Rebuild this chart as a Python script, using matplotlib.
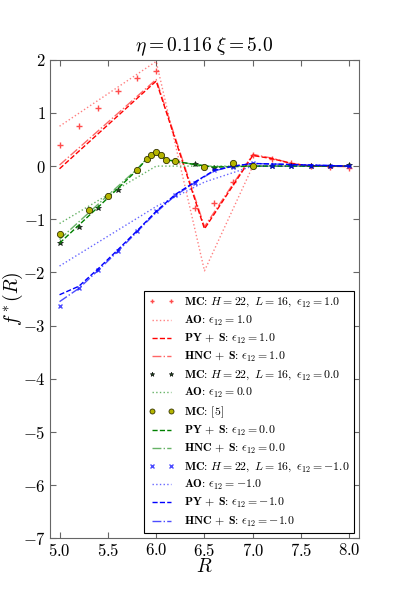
import matplotlib
matplotlib.use("Agg")
import matplotlib.pyplot as plt

plt.rcParams['font.family'] = 'serif'
plt.rcParams['font.serif'] = ['cmr10', 'DejaVu Serif']
plt.rcParams['mathtext.fontset'] = 'cm'
plt.rcParams['axes.formatter.use_mathtext'] = True
plt.rcParams['axes.unicode_minus'] = True

# ---- MC data ----
R_mc_p1 = [5.0, 5.2, 5.4, 5.6, 5.8, 6.0, 6.4, 6.6, 6.8, 7.0, 7.2, 7.4, 7.6, 7.8, 8.0]
f_mc_p1 = [0.39, 0.76, 1.09, 1.41, 1.65, 1.79, -0.79, -0.70, -0.29, 0.21, 0.14, 0.05, 0.0, -0.01, -0.03]

R_mc_0 = [5.0, 5.2, 5.4, 5.6, 5.8, 6.0, 6.2, 6.4, 6.6, 6.8, 7.0, 7.2, 7.4, 7.6, 7.8, 8.0]
f_mc_0 = [-1.44, -1.15, -0.79, -0.45, -0.10, 0.24, 0.10, 0.04, -0.03, 0.01, 0.0, 0.0, 0.0, 0.0, 0.0, 0.02]

R_mc_ref = [5.0, 5.3, 5.5, 5.8, 5.9, 5.95, 6.0, 6.05, 6.1, 6.2, 6.5, 6.8, 7.0]
f_mc_ref = [-1.27, -0.83, -0.57, -0.07, 0.13, 0.21, 0.27, 0.20, 0.12, 0.09, -0.01, 0.06, 0.0]

R_mc_m1 = [5.0, 5.2, 5.4, 5.6, 5.8, 6.0, 6.2, 6.4, 6.6, 6.8, 7.0, 7.2, 7.4, 7.6, 7.8, 8.0]
f_mc_m1 = [-2.64, -2.29, -1.95, -1.60, -1.23, -0.85, -0.54, -0.31, -0.08, -0.01, 0.05, 0.0, 0.0, 0.0, 0.0, 0.0]

# ---- theory curves ----
R_ao_p1 = [5.0, 6.0, 6.5, 7.0, 8.0]
f_ao_p1 = [0.75, 1.97, -1.97, 0.0, 0.0]
R_py_p1 = [5.0, 6.0, 6.5, 7.0, 7.2, 7.4, 7.6, 8.0]
f_py_p1 = [-0.05, 1.60, -1.18, 0.20, 0.14, 0.05, 0.0, 0.0]
R_hnc_p1 = [5.0, 6.0, 6.5, 7.0, 7.2, 7.4, 7.6, 8.0]
f_hnc_p1 = [0.02, 1.63, -1.14, 0.22, 0.15, 0.05, 0.0, -0.01]

R_ao_0 = [5.0, 6.0, 8.0]
f_ao_0 = [-1.08, 0.0, 0.0]
R_py_0 = [5.0, 5.5, 5.8, 5.9, 5.95, 6.0, 6.05, 6.1, 6.2, 6.4, 6.6, 7.0, 8.0]
f_py_0 = [-1.45, -0.60, -0.08, 0.13, 0.21, 0.26, 0.20, 0.12, 0.09, 0.03, -0.02, 0.0, 0.0]
R_hnc_0 = [5.0, 5.5, 5.8, 5.9, 5.95, 6.0, 6.05, 6.1, 6.2, 6.4, 6.6, 7.0, 8.0]
f_hnc_0 = [-1.38, -0.55, -0.06, 0.14, 0.22, 0.26, 0.20, 0.13, 0.09, 0.03, -0.01, 0.0, 0.0]

R_ao_m1 = [5.0, 6.0, 6.5, 7.0, 8.0]
f_ao_m1 = [-1.88, -0.76, -0.30, 0.0, 0.0]
R_py_m1 = [5.0, 5.2, 5.4, 5.6, 5.8, 6.0, 6.2, 6.4, 6.6, 6.8, 7.0, 8.0]
f_py_m1 = [-2.42, -2.26, -1.93, -1.58, -1.22, -0.85, -0.53, -0.30, -0.08, 0.0, 0.05, 0.0]
R_hnc_m1 = [5.0, 5.2, 5.4, 5.6, 5.8, 6.0, 6.2, 6.4, 6.6, 6.8, 7.0, 8.0]
f_hnc_m1 = [-2.55, -2.30, -1.96, -1.61, -1.24, -0.87, -0.55, -0.31, -0.09, 0.0, 0.05, 0.0]

title = r'$\eta = 0.116\ \xi = 5.0$'
PY = r'$\mathbf{PY}$ $\mathbf{+}$ $\mathbf{S}$: '
HNC = r'$\mathbf{HNC}$ $\mathbf{+}$ $\mathbf{S}$: '

fig = plt.figure(figsize=(3.99, 5.98), dpi=100)
ax = fig.add_axes([0.125, 0.1, 0.775, 0.8])

ax.plot(R_mc_p1, f_mc_p1, '+', color='r', alpha=0.7, ms=4, mew=1.0,
        label=r'$\mathbf{MC}$: $H=22,\ L=16,\ \epsilon_{12}=1.0$')
ax.plot(R_ao_p1, f_ao_p1, ':', color='r', alpha=0.5, lw=1,
        label=r'$\mathbf{AO}$: $\epsilon_{12}=1.0$')
ax.plot(R_py_p1, f_py_p1, '--', color='r', lw=1,
        label=PY + r'$\epsilon_{12}=1.0$')
ax.plot(R_hnc_p1, f_hnc_p1, '-.', color='r', alpha=0.6, lw=1,
        label=HNC + r'$\epsilon_{12}=1.0$')

ax.plot(R_mc_0, f_mc_0, '*', color='#1f4f1f', mec='k', mew=0.4, ms=4.2,
        label=r'$\mathbf{MC}$: $H=22,\ L=16,\ \epsilon_{12}=0.0$')
ax.plot(R_ao_0, f_ao_0, ':', color='g', alpha=0.6, lw=1,
        label=r'$\mathbf{AO}$: $\epsilon_{12}=0.0$')
ax.plot(R_mc_ref, f_mc_ref, 'o', color='#b5b500', mec='#333300', mew=0.6, ms=4.5,
        label=r'$\mathbf{MC}$: [5]', zorder=3)
ax.plot(R_py_0, f_py_0, '--', color='g', lw=1,
        label=PY + r'$\epsilon_{12}=0.0$')
ax.plot(R_hnc_0, f_hnc_0, '-.', color='g', alpha=0.6, lw=1,
        label=HNC + r'$\epsilon_{12}=0.0$')

ax.plot(R_mc_m1, f_mc_m1, 'x', color='b', alpha=0.7, ms=3.5, mew=1.0,
        label=r'$\mathbf{MC}$: $H=22,\ L=16,\ \epsilon_{12}=-1.0$')
ax.plot(R_ao_m1, f_ao_m1, ':', color='b', alpha=0.6, lw=1,
        label=r'$\mathbf{AO}$: $\epsilon_{12}=-1.0$')
ax.plot(R_py_m1, f_py_m1, '--', color='b', lw=1,
        label=PY + r'$\epsilon_{12}=-1.0$')
ax.plot(R_hnc_m1, f_hnc_m1, '-.', color='b', alpha=0.7, lw=1,
        label=HNC + r'$\epsilon_{12}=-1.0$')

ax.set_xlim(4.9, 8.1)
ax.set_ylim(-7, 2)
ax.set_xticks([5.0, 5.5, 6.0, 6.5, 7.0, 7.5, 8.0])
ax.set_yticks(range(-7, 3))
ax.tick_params(direction='in', top=True, right=True, labelsize=12, length=4,
               color='0.4', pad=3)
for s in ax.spines.values():
    s.set_color('0.4')
ax.set_title(title, fontsize=14)
ax.set_xlabel(r'$R$', fontsize=14, labelpad=-1)
ax.set_ylabel(r'$f^*(R)$', fontsize=14, labelpad=-2)

leg = ax.legend(loc='lower right', fontsize=8.5, numpoints=2, fancybox=False,
                framealpha=1, edgecolor='k', borderaxespad=0.4,
                handlelength=2.2, labelspacing=0.36, markerscale=0.8)
leg.get_frame().set_linewidth(0.8)

fig.savefig('out.png', dpi=100)
